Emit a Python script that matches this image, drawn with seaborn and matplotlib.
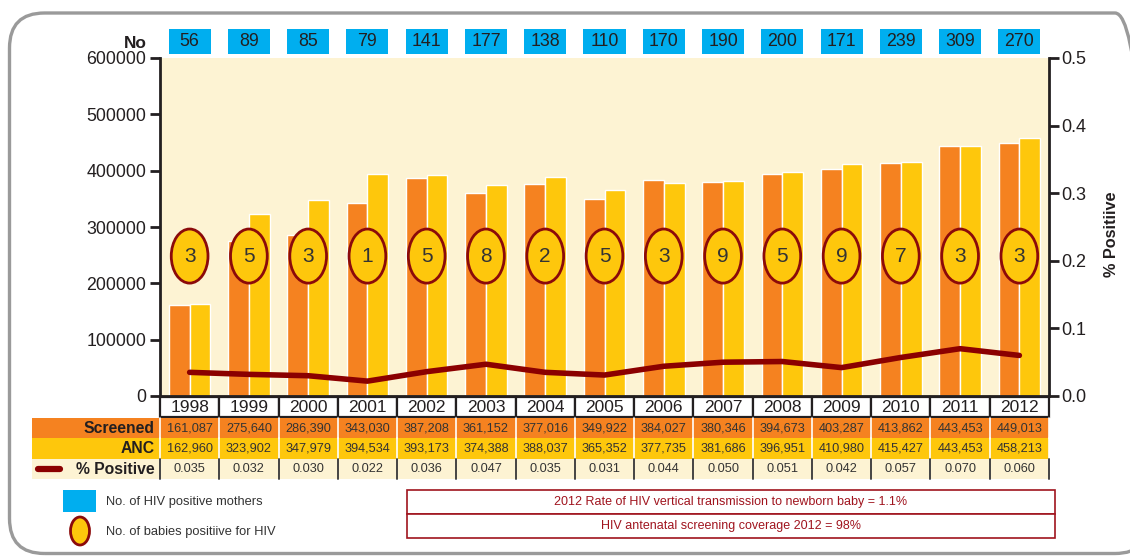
import numpy as np
import pandas as pd
import matplotlib
matplotlib.use("Agg")
import matplotlib.pyplot as plt
import matplotlib.transforms as mtransforms
from matplotlib.patches import Rectangle, Ellipse, FancyBboxPatch
from matplotlib.lines import Line2D
import seaborn as sns

# ---- data -------------------------------------------------------------
years = ["1998", "1999", "2000", "2001", "2002", "2003", "2004", "2005",
         "2006", "2007", "2008", "2009", "2010", "2011", "2012"]
screened = [161087, 275640, 286390, 343030, 387208, 361152, 377016, 349922,
            384027, 380346, 394673, 403287, 413862, 443453, 449013]
anc = [162960, 323902, 347979, 394534, 393173, 374388, 388037, 365352,
       377735, 381686, 396951, 410980, 415427, 443453, 458213]
pct_positive = [0.035, 0.032, 0.030, 0.022, 0.036, 0.047, 0.035, 0.031,
                0.044, 0.050, 0.051, 0.042, 0.057, 0.070, 0.060]
hiv_mothers = [56, 89, 85, 79, 141, 177, 138, 110, 170, 190, 200, 171, 239, 309, 270]
hiv_babies = [3, 5, 3, 1, 5, 8, 2, 5, 3, 9, 5, 9, 7, 3, 3]
left_ticks = [0, 100000, 200000, 300000, 400000, 500000, 600000]
right_ticks = [0.0, 0.1, 0.2, 0.3, 0.4, 0.5]
note_lines = ["2012 Rate of HIV vertical transmission to newborn baby = 1.1%",
              "HIV antenatal screening coverage 2012 = 98%"]

# ---- style ------------------------------------------------------------
ORANGE = "#F58220"
YELLOW = "#FEC70C"
CREAM = "#FDF3D3"
BLUE = "#00AEEF"
DARKRED = "#8B0A0A"
NOTE_RED = "#A0141E"
INK = "#231F20"

sns.set_theme(style="white")
plt.rcParams["font.family"] = ["Liberation Sans", "DejaVu Sans"]

W, H = 1130, 556
fig = plt.figure(figsize=(W / 100, H / 100), dpi=100)
fig.patch.set_facecolor("white")


def fx(px):
    return px / W


def fy(py):
    return 1 - py / H


# outer rounded frame, laid out in pixels (origin bottom-left)
px_trans = mtransforms.Affine2D().scale(1 / W, 1 / H) + fig.transFigure
frame = FancyBboxPatch((9.5, 2.5), 1150 - 9.5, 543 - 2.5,
                       boxstyle="round,pad=0,rounding_size=35",
                       transform=px_trans, fc="none",
                       ec="#9A9A9A", lw=2.4, zorder=0)
fig.patches.append(frame)

# ---- main axes ---------------------------------------------------------
ax = fig.add_axes([fx(160), fy(396), fx(1049) - fx(160), fy(58) - fy(396)])
ax.set_facecolor(CREAM)

df = pd.DataFrame({
    "Year": years * 2,
    "Count": screened + anc,
    "Series": ["Screened"] * len(years) + ["ANC"] * len(years),
})
sns.barplot(data=df, x="Year", y="Count", hue="Series", order=years,
            hue_order=["Screened", "ANC"],
            palette={"Screened": ORANGE, "ANC": YELLOW},
            width=0.7, gap=0, dodge=True, saturation=1, errorbar=None,
            legend=False, ax=ax, zorder=2)
ax.set_xlim(-0.5, len(years) - 0.5)
ax.set_ylim(0, 600000)
ax.set_yticks(left_ticks)
ax.set_yticklabels([str(t) for t in left_ticks])
ax.set_xlabel("")
ax.set_ylabel("")
ax.tick_params(axis="x", bottom=False, labelbottom=False)
ax.tick_params(axis="y", left=True, direction="out", length=7, width=2,
               pad=3, labelsize=12.8, colors=INK)
for side in ["top", "right"]:
    ax.spines[side].set_visible(False)
for side in ["left", "bottom"]:
    ax.spines[side].set_linewidth(2)
    ax.spines[side].set_color(INK)

# babies positive: ellipses mid-height
blend = mtransforms.blended_transform_factory(ax.transData, ax.transAxes)
for i, n in enumerate(hiv_babies):
    ax.add_patch(Ellipse((i, 0.414), 0.62, 0.16, transform=blend,
                         fc=YELLOW, ec=DARKRED, lw=2, zorder=4))
    ax.text(i, 0.414, str(n), transform=blend, ha="center", va="center",
            fontsize=15, color="#333333", zorder=5)

# HIV positive mothers: blue boxes above plot
for i, n in enumerate(hiv_mothers):
    ax.add_patch(Rectangle((i - 0.355, 1.012), 0.71, 0.074, transform=blend,
                           fc=BLUE, ec="none", clip_on=False, zorder=4))
    ax.text(i, 1.049, str(n), transform=blend, ha="center", va="center",
            fontsize=12.8, color=INK, clip_on=False, zorder=5)
fig.text(fx(147), fy(43), "No", ha="right", va="center", fontsize=12.4,
         fontweight="bold", color=INK)

# ---- % positive line on secondary axis ----------------------------------
ax2 = ax.twinx()
sns.lineplot(x=np.arange(len(years)), y=pct_positive, ax=ax2, color="#8B0000",
             lw=4, zorder=6)
ax2.set_xlim(-0.5, len(years) - 0.5)
ax2.set_ylim(0, 0.5)
ax2.set_yticks(right_ticks)
ax2.set_yticklabels([f"{t:.1f}" for t in right_ticks])
ax2.set_ylabel("")
ax2.tick_params(axis="y", right=True, direction="out", length=7, width=2,
                pad=2, labelsize=13, colors=INK)
for side in ["top", "left", "bottom"]:
    ax2.spines[side].set_visible(False)
ax2.spines["right"].set_linewidth(2)
ax2.spines["right"].set_color(INK)
fig.text(fx(1112), fy(234), "% Positiive", rotation=90, ha="center",
         va="center", fontsize=11.7, fontweight="bold", color=INK)

# ---- data table below plot ----------------------------------------------
tab = fig.add_axes([fx(160), fy(479), fx(1049) - fx(160), fy(397) - fy(479)])
tab.set_xlim(-0.5, len(years) - 0.5)
tab.set_ylim(4, 0)
tab.axis("off")

label_left = -0.5 - (160 - 32) / (889 / len(years))
label_x = -0.5 - 5 / (889 / len(years))
row_specs = [("Screened", screened, ORANGE, "white"),
             ("ANC", anc, YELLOW, "white"),
             ("% Positive", pct_positive, CREAM, "#444444")]

for i, yr in enumerate(years):
    tab.add_patch(Rectangle((i - 0.5, 0.02), 1, 0.98, fc="white", ec=INK,
                            lw=1.6, clip_on=False))
    tab.text(i, 0.52, yr, ha="center", va="center", fontsize=12.5, color=INK)

for r, (name, vals, bg, sep) in enumerate(row_specs, start=1):
    tab.add_patch(Rectangle((label_left, r), len(years) - 0.5 - label_left, 1,
                            fc=bg, ec="none", clip_on=False, zorder=1))
    for i in range(len(years) + 1):
        tab.plot([i - 0.5, i - 0.5], [r, r + 1], color=sep,
                 lw=1.2 if sep == "white" else 1.4, clip_on=False, zorder=2)
    for i, v in enumerate(vals):
        txt = f"{v:.3f}" if name == "% Positive" else f"{v:,}"
        tab.text(i, r + 0.52, txt, ha="center", va="center", fontsize=9.2,
                 color="#333333", zorder=3)
    tab.text(label_x, r + 0.52, name, ha="right", va="center", fontsize=11.3,
             fontweight="bold", color=INK, zorder=3)

# line key in % Positive row
fig.add_artist(Line2D([fx(38), fx(60)], [fy(468.5), fy(468.5)], color="#8B0000",
                      lw=4.5, solid_capstyle="round"))

# ---- legend and notes ---------------------------------------------------
fig.patches.append(Rectangle((fx(63), fy(512)), fx(96) - fx(63), fy(490) - fy(512),
                             transform=fig.transFigure, fc=BLUE, ec="none"))
fig.text(fx(106), fy(502), "No. of HIV positive mothers", ha="left",
         va="center", fontsize=9.3, color="#333333")
fig.patches.append(Ellipse((fx(80), fy(531)), 19 / W, 28 / H,
                           transform=fig.transFigure, fc=YELLOW, ec=DARKRED, lw=2))
fig.text(fx(106), fy(532), "No. of babies positiive for HIV", ha="left",
         va="center", fontsize=9.3, color="#333333")

for k, line in enumerate(note_lines):
    top = 490 + 24 * k
    fig.patches.append(Rectangle((fx(407), fy(top + 24)), fx(1055) - fx(407),
                                 fy(top) - fy(top + 24),
                                 transform=fig.transFigure, fc="white",
                                 ec=NOTE_RED, lw=1.2))
    fig.text(fx(731), fy(top + 12), line, ha="center", va="center",
             fontsize=9, color=NOTE_RED)

fig.savefig("out.png", dpi=100, facecolor="white")
